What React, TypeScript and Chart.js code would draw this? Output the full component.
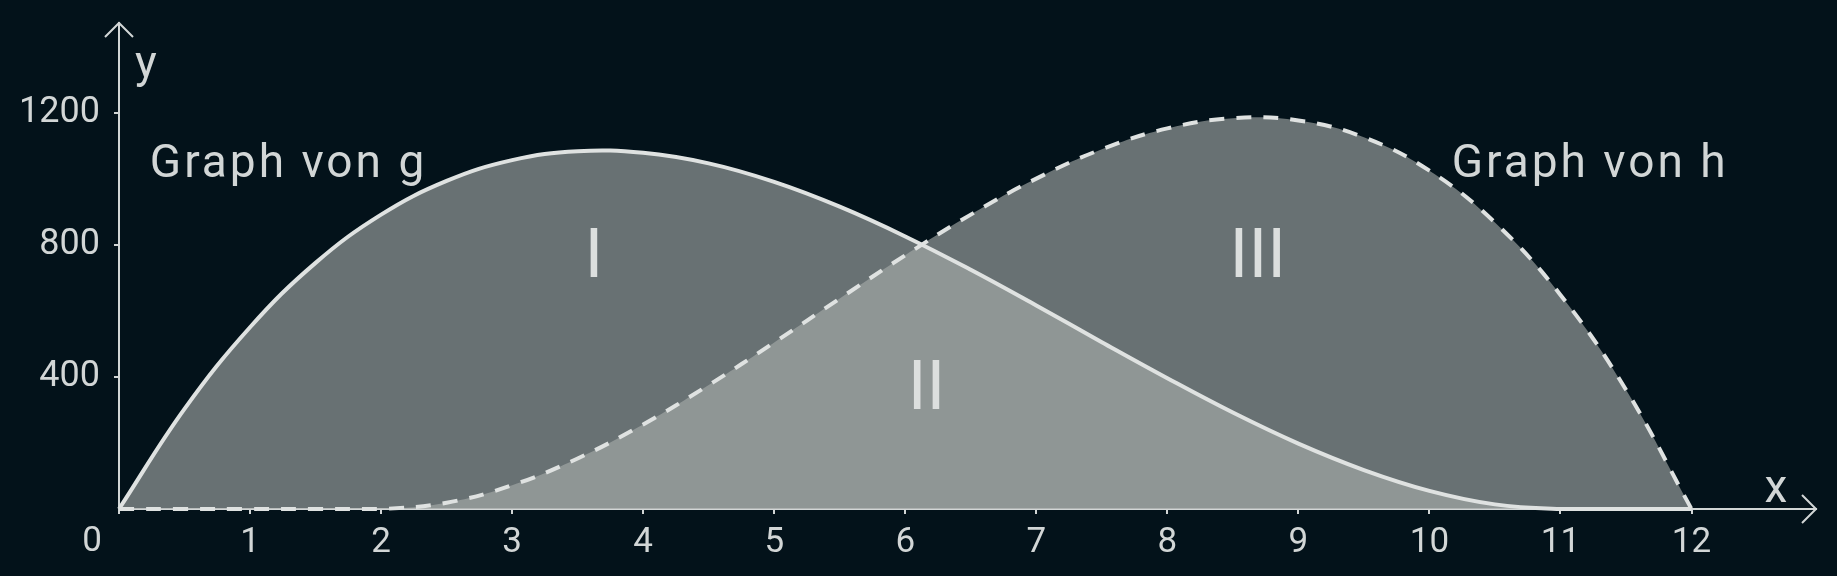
import React, { useEffect, useRef } from "react";
import { Chart, registerables } from "chart.js";

Chart.register(...registerables);

// sample positions on the x axis
const xValues = [0, 0.5, 1, 1.5, 2, 2.5, 3, 3.5, 4, 4.5, 5, 5.5, 6, 6.5, 7, 7.5, 8, 8.5, 9, 9.5, 10, 10.5, 11, 11.5, 12];
// Graph von g (solid)
const gValues = [0, 303, 550, 745, 891, 993, 1056, 1083, 1078, 1046, 990, 915, 825, 724, 616, 505, 396, 292, 198, 118, 55, 14, 0, 0, 0];
// Graph von h (dashed)
const hValues = [0, 0, 0, 0, 0, 19, 72, 153, 256, 375, 504, 637, 768, 891, 1000, 1089, 1152, 1183, 1176, 1125, 1024, 867, 648, 361, 0];

const xTicks = [0, 1, 2, 3, 4, 5, 6, 7, 8, 9, 10, 11, 12];
const yTicks = [400, 800, 1200];
const regionNames = ["I", "II", "III"];

const BG = "#03121a";
const LINE = "#dfe2e1";
const AXIS = "#d2d6d6";
const FILL = "rgba(169, 174, 172, 0.61)";
const FONT = "Roboto";

const overlay = {
  id: "overlay",
  beforeDraw(chart: any) {
    const { ctx, width, height } = chart;
    ctx.save();
    ctx.fillStyle = BG;
    ctx.fillRect(0, 0, width, height);
    ctx.restore();
  },
  afterDraw(chart: any) {
    const { ctx, chartArea } = chart;
    const sx = chart.scales.x;
    const sy = chart.scales.y;
    const { left, top, right, bottom } = chartArea;
    ctx.save();

    // arrow heads
    ctx.strokeStyle = AXIS;
    ctx.lineWidth = 2;
    ctx.beginPath();
    ctx.moveTo(left - 14, top + 14);
    ctx.lineTo(left, top);
    ctx.lineTo(left + 14, top + 14);
    ctx.moveTo(right - 14, bottom - 14);
    ctx.lineTo(right, bottom);
    ctx.lineTo(right - 14, bottom + 14);
    ctx.stroke();

    ctx.fillStyle = AXIS;
    ctx.textBaseline = "alphabetic";

    // axis names and origin
    ctx.font = `46px ${FONT}`;
    ctx.textAlign = "center";
    ctx.fillText("y", left + 27, top + 55);
    ctx.fillText("x", right - 40, bottom - 7);
    ctx.font = `35px ${FONT}`;
    ctx.fillText("0", left - 27, bottom + 42);

    // graph names
    ctx.font = `46px ${FONT}`;
    ctx.textAlign = "left";
    (ctx as any).letterSpacing = "3px";
    ctx.fillText("Graph von g", sx.getPixelForValue(0.235), sy.getPixelForValue(1005));
    ctx.fillText("Graph von h", sx.getPixelForValue(10.17), sy.getPixelForValue(1005));
    (ctx as any).letterSpacing = "0px";

    // region numerals
    ctx.font = `69px ${FONT}`;
    ctx.textAlign = "center";
    ctx.fillStyle = "#dcdfde";
    const spots = [
      [3.624, 702],
      [6.162, 303],
      [8.69, 702],
    ];
    regionNames.forEach((name, i) => {
      ctx.fillText(name, sx.getPixelForValue(spots[i][0]), sy.getPixelForValue(spots[i][1]));
    });

    ctx.restore();
  },
};

const App: React.FC = () => {
  const canvasRef = useRef<HTMLCanvasElement>(null);
  const chartRef = useRef<Chart>();

  useEffect(() => {
    if (!canvasRef.current) return;
    const ctx = canvasRef.current.getContext("2d");
    if (!ctx) return;
    if (chartRef.current) chartRef.current.destroy();

    chartRef.current = new Chart(ctx, {
      type: "line",
      data: {
        datasets: [
          {
            label: "g",
            data: xValues.map((x, i) => ({ x, y: gValues[i] })),
            borderColor: LINE,
            borderWidth: 4,
            backgroundColor: FILL,
            fill: "origin",
            pointRadius: 0,
            tension: 0.4,
            clip: 10,
          },
          {
            label: "h",
            data: xValues.map((x, i) => ({ x, y: hValues[i] })),
            borderColor: LINE,
            borderWidth: 4,
            borderDash: [15, 12],
            backgroundColor: FILL,
            fill: "origin",
            pointRadius: 0,
            tension: 0.4,
            clip: 10,
          },
        ],
      },
      options: {
        responsive: false,
        animation: false,
        events: [],
        layout: { padding: { top: 23, right: 21, left: 0, bottom: 0 } },
        plugins: {
          legend: { display: false },
          tooltip: { enabled: false },
          filler: { drawTime: "beforeDatasetsDraw" },
        },
        scales: {
          x: {
            type: "linear",
            min: 0,
            max: 12.95,
            afterBuildTicks: (s: any) => {
              s.ticks = xTicks.map((v) => ({ value: v }));
            },
            afterFit: (s: any) => {
              s.height = 67;
              s.paddingLeft = 0;
              s.paddingRight = 0;
            },
            grid: {
              display: true,
              drawOnChartArea: false,
              drawTicks: true,
              tickLength: 5,
              color: AXIS,
              lineWidth: 2,
            },
            border: { display: true, color: AXIS, width: 2 },
            ticks: {
              color: AXIS,
              font: { family: FONT, size: 35 },
              padding: 8,
              maxRotation: 0,
              autoSkip: false,
              callback: (v: any) => (v === 0 ? "" : String(v)),
            },
          },
          y: {
            type: "linear",
            min: 0,
            max: 1471,
            afterBuildTicks: (s: any) => {
              s.ticks = yTicks.map((v) => ({ value: v }));
            },
            afterFit: (s: any) => {
              s.width = 119;
              s.paddingTop = 0;
              s.paddingBottom = 0;
            },
            grid: {
              display: true,
              drawOnChartArea: false,
              drawTicks: true,
              tickLength: 5,
              color: AXIS,
              lineWidth: 2,
            },
            border: { display: true, color: AXIS, width: 2 },
            ticks: {
              color: AXIS,
              font: { family: FONT, size: 36 },
              padding: 14,
              autoSkip: false,
              callback: (v: any) => String(v),
            },
          },
        },
      },
      plugins: [overlay],
    });

    return () => {
      if (chartRef.current) {
        chartRef.current.destroy();
        chartRef.current = undefined;
      }
    };
  }, []);

  return (
    <div style={styles.page}>
      <canvas ref={canvasRef} width={1837} height={576} />
    </div>
  );
};

const styles = {
  page: {
    position: "fixed" as const,
    top: 0,
    left: 0,
    width: 1837,
    height: 576,
    background: BG,
  },
};

export default App;
